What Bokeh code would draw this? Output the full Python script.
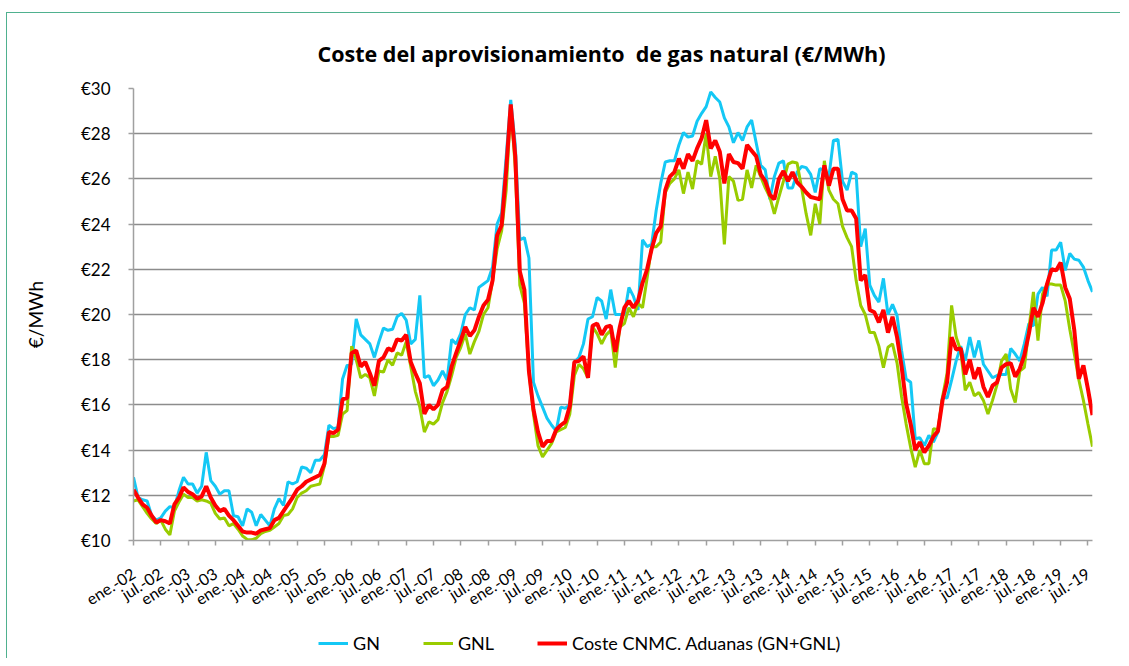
from math import radians
from bokeh.plotting import figure
from bokeh.layouts import column
from bokeh.models import (Range1d, FixedTicker, PrintfTickFormatter, Legend,
                          LegendItem, ColumnDataSource, Title)
from bokeh.embed import file_html
from bokeh.resources import INLINE

# ---- data (monthly, ene.-02 .. ago.-19) ----
gn = [12.8, 11.9, 11.8, 11.75, 11.1, 10.9, 11.0, 11.3, 11.5, 11.45,
      12.2, 12.8, 12.5, 12.5, 12.1, 12.4, 13.9, 12.65, 12.4, 12.05,
      12.2, 12.2, 11.1, 11.05, 10.65, 11.4, 11.25, 10.65, 11.15, 10.9,
      10.65, 11.4, 11.85, 11.55, 12.6, 12.5, 12.6, 13.25, 13.2, 13.0,
      13.55, 13.55, 13.8, 15.1, 14.95, 15.0, 17.15, 17.75, 17.8, 19.8,
      19.1, 18.9, 18.7, 18.1, 18.8, 19.4, 19.3, 19.35, 19.9, 20.05,
      19.75, 18.7, 18.9, 20.85, 17.2, 17.3, 16.85, 17.1, 17.5, 17.1,
      18.9, 18.7, 19.15, 20.0, 20.3, 20.2, 21.2, 21.35, 21.5, 22.1,
      24.0, 24.5, 27.0, 29.5, 27.5, 23.3, 23.4, 22.5, 17.0, 16.4,
      15.9, 15.4, 15.1, 14.85, 15.9, 15.85, 16.0, 17.9, 18.1, 18.7,
      19.8, 19.9, 20.75, 20.6, 19.8, 21.1, 20.0, 20.0, 20.0, 21.2,
      20.8, 20.2, 23.3, 23.0, 23.1, 24.6, 25.8, 26.75, 26.8, 26.8,
      27.5, 28.05, 27.85, 27.9, 28.55, 28.9, 29.2, 29.85, 29.6, 29.4,
      28.7, 28.3, 27.6, 28.05, 27.7, 28.3, 28.6, 27.6, 26.6, 26.4,
      25.1, 26.1, 26.7, 26.8, 25.6, 25.6, 26.3, 26.55, 26.5, 26.2,
      25.4, 26.45, 26.4, 26.1, 27.7, 27.75, 25.9, 25.5, 26.3, 26.2,
      23.0, 23.8, 21.3, 20.85, 20.55, 21.6, 20.0, 20.45, 19.95, 18.4,
      17.15, 17.0, 14.5, 14.55, 14.2, 14.65, 14.35, 14.8, 16.35, 16.3,
      17.1, 17.95, 18.6, 17.95, 19.0, 18.1, 18.85, 17.8, 17.5, 17.2,
      17.3, 17.35, 17.35, 18.5, 18.25, 17.95, 18.7, 19.6, 19.5, 20.9,
      21.2, 20.8, 22.85, 22.85, 23.2, 21.95, 22.7, 22.45, 22.4, 22.1,
      21.5, 21.0]

gnl = [11.75, 11.8, 11.5, 11.2, 10.95, 10.75, 10.9, 10.5, 10.25, 11.3,
       11.7, 12.05, 11.9, 11.9, 11.75, 11.8, 11.75, 11.65, 11.2, 10.95,
       11.0, 10.65, 10.75, 10.5, 10.2, 10.05, 10.03, 10.1, 10.3, 10.4,
       10.45, 10.6, 10.75, 11.1, 11.15, 11.4, 11.9, 12.1, 12.2, 12.4,
       12.45, 12.5, 13.3, 14.6, 14.6, 14.65, 15.6, 15.75, 18.6, 18.0,
       17.2, 17.35, 17.2, 16.4, 17.5, 17.45, 18.0, 17.75, 18.3, 18.2,
       18.8, 17.7, 16.6, 15.9, 14.8, 15.25, 15.15, 15.35, 16.1, 16.6,
       17.3, 18.1, 18.55, 19.15, 18.25, 18.8, 19.25, 20.0, 20.3, 21.5,
       22.9, 23.7, 25.5, 29.2, 26.5, 21.3, 20.5, 17.5, 15.6, 14.2,
       13.7, 14.0, 14.3, 14.8, 14.9, 15.0, 15.6, 17.3, 17.8, 17.6,
       17.2, 19.45, 19.15, 18.7, 19.1, 19.3, 17.65, 19.45, 19.6, 20.3,
       19.9, 20.5, 20.3, 21.6, 23.0, 23.0, 23.2, 25.4, 25.8, 26.0,
       26.4, 25.35, 26.3, 25.55, 26.8, 26.65, 28.0, 26.1, 27.0, 26.0,
       23.1, 26.1, 25.9, 25.05, 25.1, 26.4, 25.6, 26.6, 26.1, 25.6,
       25.2, 24.45, 25.2, 25.9, 26.65, 26.75, 26.7, 25.6, 24.45, 23.5,
       24.9, 24.0, 26.8, 25.5, 25.1, 24.9, 23.9, 23.4, 23.0, 21.5,
       20.4, 20.0, 19.2, 19.2, 18.6, 17.65, 18.55, 18.7, 17.85, 16.35,
       15.15, 14.1, 13.25, 14.0, 13.4, 13.4, 14.95, 14.9, 16.35, 17.4,
       20.4, 19.0, 18.4, 16.65, 17.0, 16.4, 16.55, 16.2, 15.6, 16.2,
       16.9, 17.95, 18.25, 16.7, 16.1, 17.5, 17.65, 19.35, 21.0, 18.85,
       20.9, 21.35, 21.35, 21.3, 21.3, 20.6, 19.35, 18.25, 17.1, 16.2,
       15.15, 14.15]

coste = [12.25, 11.9, 11.6, 11.45, 11.1, 10.8, 10.9, 10.85, 10.75, 11.6,
         11.9, 12.35, 12.15, 12.05, 11.85, 11.95, 12.4, 11.9, 11.55, 11.3,
         11.4, 11.1, 10.9, 10.65, 10.4, 10.35, 10.35, 10.3, 10.45, 10.5,
         10.55, 10.9, 11.0, 11.3, 11.6, 11.9, 12.25, 12.4, 12.6, 12.7,
         12.8, 12.9, 13.4, 14.8, 14.75, 14.9, 16.25, 16.3, 18.3, 18.4,
         17.7, 17.9, 17.4, 16.85, 17.95, 18.1, 18.5, 18.4, 18.9, 18.85,
         19.1, 17.9, 17.4, 16.95, 15.6, 16.0, 15.8, 16.0, 16.65, 16.8,
         17.7, 18.3, 18.85, 19.45, 19.05, 19.3, 19.9, 20.4, 20.65, 21.5,
         23.5, 23.95, 26.4, 29.3, 27.0, 21.9, 21.1, 17.5, 15.8, 14.8,
         14.15, 14.4, 14.4, 14.9, 15.1, 15.25, 15.95, 17.9, 17.95, 18.15,
         17.2, 19.5, 19.6, 19.1, 19.45, 19.5, 18.35, 19.45, 20.3, 20.6,
         20.3, 20.6, 21.4, 22.0, 22.9, 23.6, 23.9, 25.5, 26.1, 26.3,
         26.9, 26.45, 27.1, 26.8, 27.35, 27.8, 28.6, 27.35, 27.7, 27.2,
         25.8, 27.1, 26.75, 26.7, 26.45, 27.5, 27.25, 27.0, 26.2, 25.9,
         25.3, 25.1, 26.0, 26.35, 25.9, 26.3, 25.85, 25.65, 25.4, 25.2,
         25.15, 25.1, 26.6, 25.7, 26.45, 26.45, 25.1, 24.6, 24.6, 24.25,
         21.5, 21.75, 20.2, 20.1, 19.65, 20.2, 19.2, 19.9, 19.0, 17.7,
         16.05, 15.15, 14.0, 14.35, 13.9, 14.2, 14.6, 14.85, 16.2, 17.0,
         19.0, 18.45, 18.5, 17.35, 18.0, 17.15, 17.65, 16.8, 16.35, 16.85,
         17.0, 17.65, 17.8, 17.85, 17.25, 17.6, 18.2, 19.15, 20.3, 19.9,
         20.5, 21.35, 22.0, 21.95, 22.3, 21.2, 20.7, 19.3, 17.15, 17.75,
         16.7, 15.55]

tick_labels = ["ene.-02", "jul.-02", "ene.-03", "jul.-03", "ene.-04", "jul.-04",
               "ene.-05", "jul.-05", "ene.-06", "jul.-06", "ene.-07", "jul.-07",
               "ene.-08", "jul.-08", "ene.-09", "jul.-09", "ene.-10", "jul.-10",
               "ene.-11", "jul.-11", "ene.-12", "jul.-12", "ene.-13", "jul.-13",
               "ene.-14", "jul.-14", "ene.-15", "jul.-15", "ene.-16", "jul.-16",
               "ene.-17", "jul.-17", "ene.-18", "jul.-18", "ene.-19", "jul.-19"]
tick_step = 6
y_ticks = [10, 12, 14, 16, 18, 20, 22, 24, 26, 28, 30]

series_cols = ["gn", "gnl", "coste"]
series_names = ["GN", "GNL", "Coste CNMC. Aduanas (GN+GNL)"]
series_colors = ["#14c8f5", "#99cc00", "#ff0000"]
series_widths = [3, 3, 4]
title_text = "Coste del aprovisionamiento\u00a0 de gas natural (€/MWh)"
y_title = "€/MWh"

FONT = "Lato"
W = 1113
H1, H2 = 610, 35
FL, FR, FT, FB = 126, 28, 75, 83

src = ColumnDataSource(dict(x=list(range(len(gn))), gn=gn, gnl=gnl, coste=coste))

p = figure(width=W, height=H1, output_backend="svg", toolbar_location=None,
           x_range=Range1d(0, len(gn) - 1), y_range=Range1d(y_ticks[0], y_ticks[-1]),
           min_border_left=FL, min_border_right=FR, min_border_top=FT,
           min_border_bottom=FB)
p.background_fill_color = "white"
p.border_fill_color = "white"
p.outline_line_color = None

# title
p.title = Title(text=title_text, align="left", offset=184, standoff=41,
                text_font="Open Sans", text_font_size="21.5px", text_font_style="bold",
                text_color="black")

# grid
p.xgrid.grid_line_color = None
p.ygrid.grid_line_color = "#8c8c8c"
p.ygrid.grid_line_width = 1.5
p.ygrid.ticker = FixedTicker(ticks=y_ticks)

# y axis
p.yaxis.ticker = FixedTicker(ticks=y_ticks)
p.yaxis.formatter = PrintfTickFormatter(format="€%d")
p.yaxis.major_label_text_font = FONT
p.yaxis.major_label_text_font_size = "17px"
p.yaxis.major_label_text_color = "black"
p.yaxis.major_label_standoff = 18
p.yaxis.major_tick_out = 5
p.yaxis.major_tick_in = 0
p.yaxis.minor_tick_line_color = None
p.yaxis.axis_line_color = "#a0a0a0"
p.yaxis.axis_line_width = 1.5
p.yaxis.major_tick_line_color = "#a0a0a0"
p.yaxis.major_tick_line_width = 1.5
p.yaxis.axis_label = y_title
p.yaxis.axis_label_text_font = FONT
p.yaxis.axis_label_text_font_size = "19px"
p.yaxis.axis_label_text_font_style = "normal"
p.yaxis.axis_label_text_color = "black"
p.yaxis.axis_label_standoff = 31

# x axis
xt = [i * tick_step for i in range(len(tick_labels))]
p.xaxis.ticker = FixedTicker(ticks=xt)
p.xaxis.major_label_overrides = {t: lab for t, lab in zip(xt, tick_labels)}
p.xaxis.major_label_orientation = radians(32)
p.xaxis.major_label_text_font = FONT
p.xaxis.major_label_text_font_size = "16px"
p.xaxis.major_label_text_color = "black"
p.xaxis.major_label_standoff = 26
p.xaxis.major_tick_out = 5
p.xaxis.major_tick_in = 0
p.xaxis.minor_tick_line_color = None
p.xaxis.axis_line_color = "#a0a0a0"
p.xaxis.axis_line_width = 1.5
p.xaxis.major_tick_line_color = "#a0a0a0"
p.xaxis.major_tick_line_width = 1.5

for col, c, w in zip(series_cols, series_colors, series_widths):
    p.line("x", col, source=src, line_color=c, line_width=w)

# legend strip below the chart (its lines share the data but lie outside its view)
q = figure(width=W, height=H2, output_backend="svg", toolbar_location=None,
           x_axis_location=None, y_axis_location=None,
           x_range=Range1d(0, 1), y_range=Range1d(0, 1),
           min_border_left=0, min_border_right=0, min_border_top=0, min_border_bottom=0)
q.grid.visible = False
q.outline_line_color = None
q.background_fill_color = "white"
q.border_fill_color = "white"
items = []
for col, name, c, w in zip(series_cols, series_names, series_colors, series_widths):
    r = q.line("x", col, source=src, line_color=c, line_width=w)
    items.append(LegendItem(label=name, renderers=[r]))
legend = Legend(items=items, orientation="horizontal", location=(185, 4),
                glyph_width=30, glyph_height=20, label_standoff=5, spacing=43,
                padding=0, margin=0, border_line_color=None,
                background_fill_alpha=0,
                label_text_font=FONT, label_text_font_size="18px",
                label_text_color="black")
q.add_layout(legend, "center")

layout = column(p, q, spacing=0)
layout.styles = {"border-top": "1px solid #4fb18f", "border-left": "1px solid #4fb18f",
                 "margin-top": "12px", "margin-left": "6px"}
open("out.html", "w").write(file_html(layout, INLINE))
